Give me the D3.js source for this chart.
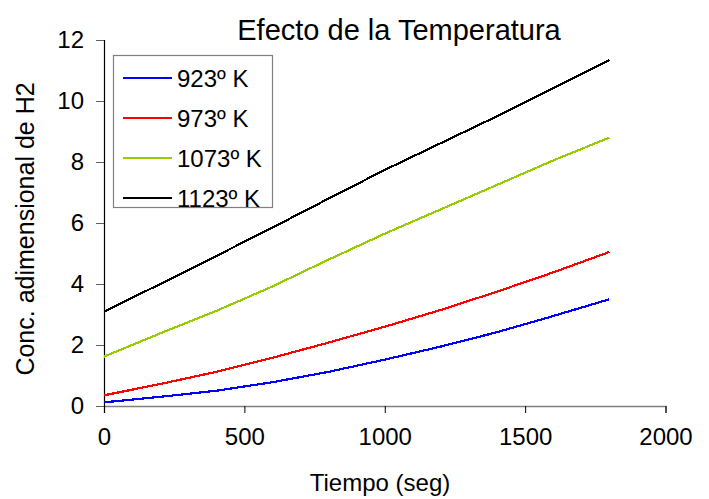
<!DOCTYPE html>
<html>
<head>
<meta charset="utf-8">
<script src="https://cdn.jsdelivr.net/npm/d3@7/dist/d3.min.js"></script>
<style>
  html, body { margin: 0; padding: 0; background: #fff; }
  svg text { font-family: "Liberation Sans", Arial, sans-serif; fill: #000; }
</style>
</head>
<body>
<svg id="chart" width="709" height="499"></svg>
<script>
// Time samples (s)
const tiempo = [0, 200, 400, 600, 800, 1000, 1200, 1400, 1600, 1800];

// Dimensionless H2 concentration per temperature
const conc923  = [0.12, 0.30, 0.50, 0.78, 1.12, 1.52, 1.95, 2.42, 2.95, 3.50];
const conc973  = [0.35, 0.72, 1.12, 1.58, 2.08, 2.60, 3.15, 3.75, 4.38, 5.05];
const conc1073 = [1.62, 2.38, 3.12, 3.92, 4.80, 5.65, 6.45, 7.25, 8.05, 8.80];
const conc1123 = [3.09, 4.00, 4.92, 5.85, 6.80, 7.74, 8.62, 9.50, 10.42, 11.34];

const seriesNames  = ["923º K", "973º K", "1073º K", "1123º K"];
const seriesValues = [conc923, conc973, conc1073, conc1123];
const seriesColors = ["#0000ff", "#ff0000", "#99cc00", "#000000"];

const xTicks = [0, 500, 1000, 1500, 2000];
const yTicks = [0, 2, 4, 6, 8, 10, 12];

const svg = d3.select("#chart");

const x = d3.scaleLinear().domain([0, 2000]).range([104, 665.5]);
const y = d3.scaleLinear().domain([0, 12]).range([406, 40]);

// Title
svg.append("text")
  .attr("x", 399).attr("y", 40)
  .attr("text-anchor", "middle")
  .style("font-size", "29px")
  .text("Efecto de la Temperatura");

// X axis
const xAxis = svg.append("g")
  .attr("transform", `translate(0,${y(0)})`)
  .call(d3.axisBottom(x).tickValues(xTicks).tickSize(7).tickPadding(15).tickFormat(d3.format("d")));
xAxis.select(".domain").attr("stroke", "#808080").attr("stroke-width", 1.5);
xAxis.selectAll(".tick line").attr("stroke", "#000");
xAxis.selectAll(".tick text").style("font-size", "24px").style("font-family", "Liberation Sans, Arial, sans-serif");

// Y axis
const yAxis = svg.append("g")
  .attr("transform", `translate(${x(0)},0)`)
  .call(d3.axisLeft(y).tickValues(yTicks).tickSize(8).tickPadding(12));
yAxis.select(".domain").attr("stroke", "#000").attr("stroke-width", 1.2);
yAxis.selectAll(".tick line").attr("stroke", "#606060");
yAxis.selectAll(".tick text").style("font-size", "24px").style("font-family", "Liberation Sans, Arial, sans-serif");

// Axis titles
svg.append("text")
  .attr("x", 380).attr("y", 491)
  .attr("text-anchor", "middle")
  .style("font-size", "24px")
  .text("Tiempo (seg)");

svg.append("text")
  .attr("transform", "translate(34,229) rotate(-90)")
  .attr("text-anchor", "middle")
  .style("font-size", "25px")
  .text("Conc. adimensional de H2");

// Series lines
const line = d3.line()
  .x((d, i) => x(tiempo[i]))
  .y(d => y(d));

svg.append("g").selectAll("path")
  .data(seriesValues)
  .join("path")
  .attr("d", line)
  .attr("fill", "none")
  .attr("stroke", (d, i) => seriesColors[i])
  .attr("stroke-width", 2.2)
  .attr("shape-rendering", "crispEdges");

// Legend
const legend = svg.append("g");
legend.append("rect")
  .attr("x", 113.5).attr("y", 55.5)
  .attr("width", 159).attr("height", 152)
  .attr("fill", "#fff")
  .attr("stroke", "#808080")
  .attr("stroke-width", 1.2);

const entries = legend.selectAll("g.entry")
  .data(seriesNames)
  .join("g")
  .attr("class", "entry")
  .attr("transform", (d, i) => `translate(0,${78 + i * 40})`);

entries.append("line")
  .attr("x1", 123).attr("x2", 172)
  .attr("y1", 0).attr("y2", 0)
  .attr("stroke", (d, i) => seriesColors[i])
  .attr("stroke-width", 2);

entries.append("text")
  .attr("x", 177).attr("y", 8.5)
  .style("font-size", "24px")
  .text(d => d);
</script>
</body>
</html>
